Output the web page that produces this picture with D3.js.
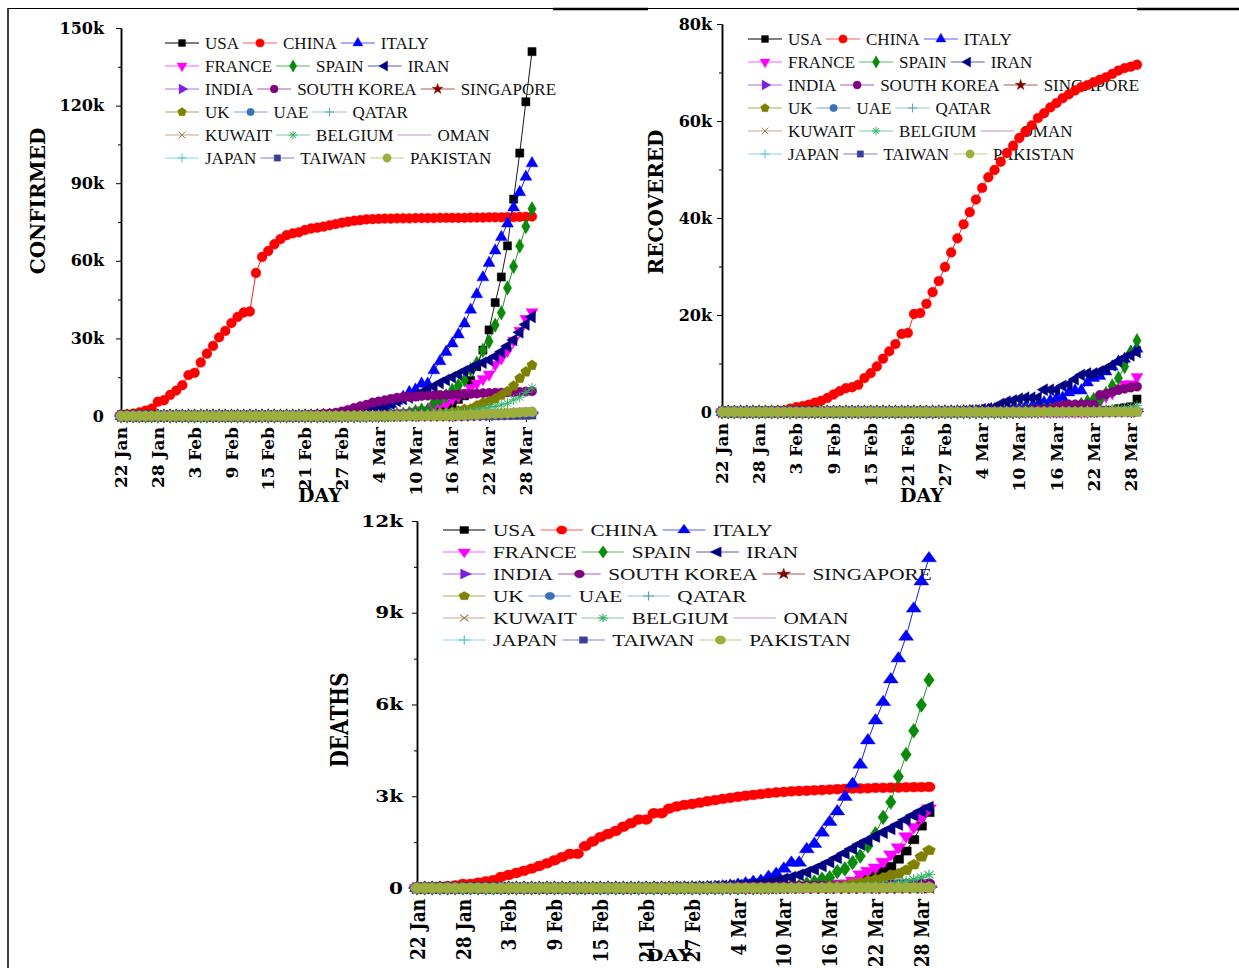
<!DOCTYPE html>
<html>
<head>
<meta charset="utf-8">
<script src="https://cdn.jsdelivr.net/npm/d3@7"></script>
<style>
  body { margin: 0; background: #fff; }
  svg { display: block; }
</style>
</head>
<body>
<div id="chart"></div>
<script>
// series, legend order (drawn in this order, last on top)
const countries = ["USA", "CHINA", "ITALY", "FRANCE", "SPAIN", "IRAN",
  "INDIA", "SOUTH KOREA", "SINGAPORE", "UK", "UAE", "QATAR",
  "KUWAIT", "BELGIUM", "OMAN", "JAPAN", "TAIWAN", "PAKISTAN"];

// 22 Jan .. 29 Mar 2020 (68 days)
const days = d3.utcDay.range(new Date(Date.UTC(2020, 0, 22)), new Date(Date.UTC(2020, 2, 30)));

// ---------- CONFIRMED ----------
const usaConfirmed = [1,1,2,2,5,5,5,6,6,8, 8,8,11,11,12,12,12,12,12,12,
  13,13,15,15,15,15,15,15,15,15, 35,35,35,53,53,59,60,62,70,76,
  101,122,153,221,278,417,537,605,959,1281, 1663,2179,2727,3499,4632,6421,7783,13677,19100,25489,
  33276,43847,53740,65778,83836,101657,121478,140886];
const chinaConfirmed = [548,643,920,1406,2075,2877,5509,6087,8141,9802,
  11891,15800,16700,20700,24100,27100,30400,32900,35900,38300,
  40000,40400,55300,61500,63800,66400,68400,69900,70600,71000,
  71900,72500,72800,73200,73700,74200,74700,75100,75500,75700,
  76000,76100,76200,76300,76300,76400,76400,76400,76500,76500,
  76500,76500,76600,76600,76600,76600,76600,76700,76700,76700,
  76800,76800,76800,76900,76900,77000,77000,77100];
const italyConfirmed = [0,0,0,0,0,0,0,0,0,2, 2,2,2,2,2,2,3,3,3,3,
  3,3,3,3,3,3,3,3,3,3, 20,62,155,229,322,453,655,888,1128,1694,
  2036,2502,3089,3858,4636,5883,7375,9172,10149,12462,
  12462,17660,21157,24747,27980,31506,35713,41035,47021,53578,
  59138,63927,69176,74386,80589,86498,92472,97689];
const franceConfirmed = [0,0,2,3,3,3,4,5,5,5, 6,6,6,6,6,6,6,11,11,11,
  11,11,11,11,12,12,12,12,12,12, 12,12,12,12,12,18,38,57,100,130,
  191,204,288,380,656,957,1134,1217,1792,2289, 2289,3672,4480,4513,6650,7652,9043,10871,12612,14282,
  16018,19856,22304,25233,29155,32964,37575,40174];
const spainConfirmed = [0,0,0,0,0,0,0,0,0,0, 1,1,1,1,1,1,1,1,1,2,
  2,2,2,2,2,2,2,2,2,2, 2,2,2,2,6,13,15,32,45,84,
  120,165,222,259,400,500,673,1073,1695,2277, 2277,5232,6391,7798,9942,11748,13910,17963,20410,25374,
  28768,35136,39885,49515,57786,65719,73235,80110];
const iranConfirmed = [0,0,0,0,0,0,0,0,0,0, 0,0,0,0,0,0,0,0,0,0,
  0,0,0,0,0,0,0,0,2,5, 18,28,43,61,95,139,245,388,593,978,
  1501,2336,2922,3513,4747,5823,6566,7161,8042,9000, 10075,11364,12729,13938,14991,16169,17361,18407,19644,20610,
  21638,23049,24811,27017,29406,32332,35408,38309];
const indiaConfirmed = [0,0,0,0,0,0,0,0,1,1, 1,2,3,3,3,3,3,3,3,3,
  3,3,3,3,3,3,3,3,3,3, 3,3,3,3,3,3,3,3,3,3,
  5,5,28,30,31,34,39,43,56,62, 73,82,102,113,119,142,156,194,244,330,
  396,499,536,657,727,887,987,1024];
const koreaConfirmed = [1,1,2,2,3,4,4,4,4,11, 12,15,15,16,19,23,24,24,25,27,
  28,28,28,28,28,29,30,31,31,104, 204,433,602,833,977,1261,1766,2337,3150,3736,
  4335,5186,5621,6088,6593,7041,7314,7478,7513,7755, 7869,7979,8086,8162,8236,8320,8413,8565,8652,8799,
  8897,8961,9037,9137,9241,9332,9478,9583];
const singaporeConfirmed = [0,1,3,3,4,5,7,7,10,13, 16,18,18,24,28,28,30,33,40,45,
  47,50,58,67,72,75,77,81,84,84, 85,85,89,89,91,93,93,93,102,106,
  108,110,110,117,130,138,150,150,160,178, 178,200,212,226,243,266,313,345,385,432,
  455,509,558,631,683,732,802,844];
const ukConfirmed = [0,0,0,0,0,0,0,0,0,2, 2,2,2,2,2,2,3,3,3,8,
  8,9,9,9,9,9,9,9,9,9, 9,9,9,13,13,13,15,20,23,36,
  40,51,85,115,163,206,273,321,382,456, 456,798,1140,1140,1543,1950,2626,2689,3983,5018,
  5683,6650,8077,9529,11658,14543,17089,19606];
const uaeConfirmed = [0,0,0,0,0,0,0,4,4,4, 4,5,5,5,5,5,5,7,7,8,
  8,8,8,8,8,9,9,9,9,9, 9,13,13,13,13,13,13,19,21,21,
  21,27,27,29,29,45,45,45,74,74, 85,85,85,98,98,98,113,140,140,153,
  153,198,248,333,333,405,468,570];
const qatarConfirmed = [0,0,0,0,0,0,0,0,0,0, 0,0,0,0,0,0,0,0,0,0,
  0,0,0,0,0,0,0,0,0,0, 0,0,0,0,0,0,0,0,1,1,
  1,7,8,8,8,15,15,18,24,262, 262,320,337,401,401,439,452,460,470,481,
  494,501,526,537,549,562,590,634];
const kuwaitConfirmed = [0,0,0,0,0,0,0,0,0,0, 0,0,0,0,0,0,0,0,0,0,
  0,0,0,0,0,0,0,0,0,0, 0,0,0,1,11,26,43,45,45,45,
  56,56,56,58,58,61,64,64,69,72, 80,80,104,112,123,130,142,148,159,176,
  188,189,191,195,208,225,235,255];
const belgiumConfirmed = [0,0,0,0,0,0,0,0,0,0, 0,0,0,1,1,1,1,1,1,1,
  1,1,1,1,1,1,1,1,1,1, 1,1,1,1,1,1,1,1,1,2,
  8,13,23,50,109,169,200,239,267,314, 314,559,689,886,1058,1243,1486,1795,2257,2815,
  3401,3743,4269,4937,6235,7284,9134,10836];
const omanConfirmed = [0,0,0,0,0,0,0,0,0,0, 0,0,0,0,0,0,0,0,0,0,
  0,0,0,0,0,0,0,0,0,0, 0,0,0,2,4,4,4,4,6,6,
  6,12,15,16,16,16,16,16,18,18, 18,19,19,22,22,24,39,48,48,52,
  55,66,84,99,109,131,152,167];
const japanConfirmed = [2,1,2,2,4,4,7,7,11,15, 20,20,20,22,22,45,25,25,26,26,
  26,28,28,29,43,59,66,74,84,94, 105,122,147,159,170,189,214,228,241,256,
  274,293,331,360,420,461,502,511,581,639, 639,701,773,839,825,878,889,924,963,1007,
  1086,1086,1128,1193,1307,1387,1468,1693];
const taiwanConfirmed = [1,1,3,3,4,5,8,8,9,10, 10,10,10,11,11,16,16,17,18,18,
  18,18,18,18,18,20,22,22,23,24, 26,26,28,30,31,32,32,34,39,40,
  41,42,42,44,45,45,45,45,47,48, 49,50,53,59,67,77,100,108,135,153,
  169,195,215,235,252,267,283,298];
const pakistanConfirmed = [0,0,0,0,0,0,0,0,0,0, 0,0,0,0,0,0,0,0,0,0,
  0,0,0,0,0,0,0,0,0,0, 0,0,0,0,0,2,2,2,2,4,
  4,5,5,5,6,6,6,6,16,19, 20,28,31,53,136,236,299,454,501,730,
  776,875,972,1063,1201,1373,1495,1597];

// ---------- RECOVERED ----------
const usaRecovered = [0,0,0,0,0,0,0,0,0,0, 0,0,0,0,0,0,0,0,3,3,
  3,3,3,3,3,3,3,3,3,5, 5,5,5,5,5,6,6,7,7,7,
  7,7,7,7,7,7,7,7,8,8, 12,12,12,17,17,17,106,108,147,171,
  178,295,348,361,681,869,1072,2665];
const chinaRecovered = [28,30,36,39,49,58,101,120,135,214,
  300,700,1000,1200,1500,1900,2300,2900,3600,4300,
  4900,5100,5600,7000,8000,9400,11000,12500,14000,16100,
  16300,20200,20400,22300,24700,27000,29900,32900,35800,38700,
  41200,43800,46200,48400,49900,51600,53400,54900,56500,57800,
  59100,60600,61600,62800,63700,64700,65500,66300,67000,67400,
  68000,68500,69000,69700,70400,70900,71200,71600];
const italyRecovered = [0,0,0,0,0,0,0,0,0,0, 0,0,0,0,0,0,0,0,0,0,
  0,0,0,0,0,0,0,0,0,0, 0,1,2,1,1,3,45,46,46,83,
  149,160,276,414,523,589,622,724,724,1045, 1045,1439,1966,2335,2749,2941,4025,4440,4440,6072,
  7024,7432,8326,9362,10361,10950,12384,13030];
const franceRecovered = [0,0,0,0,0,0,0,0,0,0, 0,0,0,0,0,0,0,0,0,0,
  0,0,0,0,4,4,4,4,4,4, 4,4,4,4,4,4,4,4,12,12,
  12,12,12,12,12,12,12,12,12,12, 12,12,12,12,12,12,12,12,12,12,
  2200,2200,3250,3907,4955,5707,5724,7226];
const spainRecovered = [0,0,0,0,0,0,0,0,0,0, 0,0,0,0,0,0,0,0,0,0,
  0,0,0,0,2,2,2,2,2,2, 2,2,2,2,2,2,2,2,2,2,
  2,2,2,2,2,30,30,32,32,183, 183,193,517,517,530,1028,1081,1107,1588,2125,
  2575,2575,3794,5367,7015,9357,12285,14709];
const iranRecovered = [0,0,0,0,0,0,0,0,0,0, 0,0,0,0,0,0,0,0,0,0,
  0,0,0,0,0,0,0,0,0,0, 0,0,0,0,0,49,49,73,123,175,
  291,291,552,739,913,1669,2134,2394,2731,2959, 2959,2959,4590,4590,4590,5389,5710,6745,7635,7931,
  7931,8376,8913,9625,10457,11133,11679,12391];
const indiaRecovered = [0,0,0,0,0,0,0,0,0,0, 0,0,0,0,0,0,0,0,0,0,
  0,0,0,0,0,0,0,0,0,0, 3,3,3,3,3,3,3,3,3,3,
  3,3,3,3,3,3,3,3,4,4, 4,4,10,13,13,14,14,15,20,23,
  27,27,40,43,45,73,84,95];
const koreaRecovered = [0,0,0,0,0,0,0,0,0,0, 0,0,0,0,0,1,1,1,3,3,
  3,7,7,7,9,9,10,12,12,16, 16,16,18,18,22,22,22,22,27,30,
  30,30,41,41,135,135,118,118,247,288, 333,510,510,510,1137,1407,1540,1540,1540,1540,
  1540,3507,3730,4144,4528,4811,5033,5228];
const singaporeRecovered = [0,0,0,0,0,0,0,0,0,0, 0,0,0,0,2,2,2,2,2,2,
  9,15,15,17,18,18,24,29,34,34, 37,37,51,51,53,62,62,62,72,72,
  78,78,78,78,78,78,78,78,78,96, 96,97,105,105,109,114,114,114,124,140,
  144,144,156,160,172,183,198,212];
const ukRecovered = [0,0,0,0,0,0,0,0,0,0, 0,0,0,0,0,0,0,0,0,0,
  0,0,1,1,8,8,8,8,8,8, 8,8,8,8,8,8,8,8,8,8,
  8,8,8,8,8,18,18,18,18,18, 19,19,19,19,20,52,67,67,67,67,
  67,135,135,135,135,135,135,135];
const uaeRecovered = [0,0,0,0,0,0,0,0,0,0, 0,0,0,0,0,0,0,0,0,0,
  1,1,1,1,1,3,3,3,3,3, 3,4,4,4,4,4,5,5,5,5,
  5,5,5,5,7,7,7,12,17,17, 17,20,20,23,23,23,26,31,31,38,
  38,41,52,52,52,52,58,58];
const qatarRecovered = [0,0,0,0,0,0,0,0,0,0, 0,0,0,0,0,0,0,0,0,0,
  0,0,0,0,0,0,0,0,0,0, 0,0,0,0,0,0,0,0,0,0,
  0,0,0,0,0,0,0,0,0,0, 0,0,0,0,0,0,0,0,4,4,
  6,6,6,33,33,43,48,51];
const kuwaitRecovered = [0,0,0,0,0,0,0,0,0,0, 0,0,0,0,0,0,0,0,0,0,
  0,0,0,0,0,0,0,0,0,0, 0,0,0,0,0,0,0,0,0,0,
  0,0,0,0,0,0,0,0,1,2, 5,5,5,9,9,9,15,15,18,22,
  27,27,30,43,43,49,57,64];
const belgiumRecovered = [0,0,0,0,0,0,0,0,0,0, 0,0,0,0,0,0,0,0,0,0,
  0,0,0,0,0,0,1,1,1,1, 1,1,1,1,1,1,1,1,1,1,
  1,1,1,1,1,1,1,1,1,1, 1,1,1,1,31,31,31,31,31,263,
  263,340,410,547,675,858,1063,1359];
const omanRecovered = [0,0,0,0,0,0,0,0,0,0, 0,0,0,0,0,0,0,0,0,0,
  0,0,0,0,0,0,0,0,0,0, 0,0,0,0,0,0,0,0,0,0,
  0,2,2,2,2,2,2,9,9,9, 9,9,9,9,9,12,12,12,12,13,
  13,13,17,17,17,17,23,23];
const japanRecovered = [0,0,0,0,1,1,1,1,1,1, 1,1,1,1,1,1,1,1,1,4,
  4,4,9,9,12,12,12,13,18,18, 22,22,22,22,22,22,22,22,32,32,
  32,43,43,43,46,76,76,76,101,118, 118,118,118,118,144,144,144,150,191,232,
  235,235,285,310,359,372,372,378];
const taiwanRecovered = [0,0,0,0,0,0,0,0,0,0, 0,0,0,0,0,1,1,1,1,1,
  1,1,1,1,1,1,2,2,2,2, 2,2,2,5,5,5,5,5,9,9,
  9,12,12,12,12,12,12,12,15,17, 17,17,17,20,20,20,20,20,22,28,
  28,28,28,29,29,30,30,39];
const pakistanRecovered = [0,0,0,0,0,0,0,0,0,0, 0,0,0,0,0,0,0,0,0,0,
  0,0,0,0,0,0,0,0,0,0, 0,0,0,0,0,0,0,0,0,0,
  0,0,0,0,0,0,0,0,0,0, 0,0,0,2,2,2,2,2,3,3,
  5,5,8,18,23,23,25,29];

// ---------- DEATHS ----------
const usaDeaths = [0,0,0,0,0,0,0,0,0,0, 0,0,0,0,0,0,0,0,0,0,
  0,0,0,0,0,0,0,0,0,0, 0,0,0,0,0,0,0,0,1,1,
  6,7,11,12,14,17,21,22,28,36, 40,47,54,63,85,108,118,200,244,307,
  427,552,706,942,1209,1581,2026,2467];
const chinaDeaths = [17,18,26,42,56,82,131,133,171,213,
  259,361,425,491,562,633,718,805,905,1012,
  1112,1117,1369,1521,1663,1766,1864,2003,2116,2238,
  2238,2443,2445,2595,2665,2717,2746,2790,2837,2872,
  2914,2947,2983,3015,3044,3072,3100,3123,3139,3161,
  3172,3180,3193,3203,3217,3230,3241,3249,3253,3259,
  3274,3274,3281,3285,3291,3296,3299,3304];
const italyDeaths = [0,0,0,0,0,0,0,0,0,0, 0,0,0,0,0,0,0,0,0,0,
  0,0,0,0,0,0,0,0,0,0, 1,2,3,7,10,12,17,21,29,34,
  52,79,107,148,197,233,366,463,631,827, 827,1266,1441,1809,2158,2503,2978,3405,4032,4825,
  5476,6077,6820,7503,8215,9134,10023,10779];
const franceDeaths = [0,0,0,0,0,0,0,0,0,0, 0,0,0,0,0,0,0,0,0,0,
  0,0,0,0,1,1,1,1,1,1, 1,1,1,1,1,2,2,2,2,2,
  3,4,4,6,9,11,19,19,33,48, 48,79,91,91,148,148,148,243,450,562,
  674,860,1100,1331,1696,1995,2314,2606];
const spainDeaths = [0,0,0,0,0,0,0,0,0,0, 0,0,0,0,0,0,0,0,0,0,
  0,0,0,0,0,0,0,0,0,0, 0,0,0,0,0,0,0,0,0,0,
  0,1,2,3,5,10,17,28,35,54, 55,133,195,289,342,533,623,830,1043,1375,
  1772,2311,2808,3647,4365,5138,5982,6803];
const iranDeaths = [0,0,0,0,0,0,0,0,0,0, 0,0,0,0,0,0,0,0,0,0,
  0,0,0,0,0,0,0,0,2,2, 4,5,8,12,16,19,26,34,43,54,
  66,77,92,107,124,145,194,237,291,354, 429,514,611,724,853,988,1135,1284,1433,1556,
  1685,1812,1934,2077,2234,2378,2517,2640];
const indiaDeaths = [0,0,0,0,0,0,0,0,0,0, 0,0,0,0,0,0,0,0,0,0,
  0,0,0,0,0,0,0,0,0,0, 0,0,0,0,0,0,0,0,0,0,
  0,0,0,0,0,0,0,0,0,0, 1,2,2,2,2,3,3,4,5,6,
  7,10,10,12,20,20,24,27];
const koreaDeaths = [0,0,0,0,0,0,0,0,0,0, 0,0,0,0,0,0,0,0,0,0,
  0,0,0,0,0,0,0,0,0,1, 2,2,6,8,10,12,13,13,16,17,
  28,28,35,35,42,44,50,53,54,60, 66,66,72,75,75,81,84,91,94,102,
  104,111,120,126,131,139,144,152];
const singaporeDeaths = [0,0,0,0,0,0,0,0,0,0, 0,0,0,0,0,0,0,0,0,0,
  0,0,0,0,0,0,0,0,0,0, 0,0,0,0,0,0,0,0,0,0,
  0,0,0,0,0,0,0,0,0,0, 0,0,0,0,0,0,0,0,0,2,
  2,2,2,2,2,2,3,3];
const ukDeaths = [0,0,0,0,0,0,0,0,0,0, 0,0,0,0,0,0,0,0,0,0,
  0,0,0,0,0,0,0,0,0,0, 0,0,0,0,0,0,0,0,0,0,
  0,0,0,1,2,2,3,4,6,8, 8,8,21,21,56,56,72,138,178,234,
  282,336,423,466,580,761,1021,1231];
const uaeDeaths = [0,0,0,0,0,0,0,0,0,0, 0,0,0,0,0,0,0,0,0,0,
  0,0,0,0,0,0,0,0,0,0, 0,0,0,0,0,0,0,0,0,0,
  0,0,0,0,0,0,0,0,0,0, 0,0,0,0,0,0,0,0,2,2,
  2,2,2,2,2,2,3,3];
const qatarDeaths = [0,0,0,0,0,0,0,0,0,0, 0,0,0,0,0,0,0,0,0,0,
  0,0,0,0,0,0,0,0,0,0, 0,0,0,0,0,0,0,0,0,0,
  0,0,0,0,0,0,0,0,0,0, 0,0,0,0,0,0,0,0,0,0,
  0,0,0,0,0,0,1,1];
const kuwaitDeaths = [0,0,0,0,0,0,0,0,0,0, 0,0,0,0,0,0,0,0,0,0,
  0,0,0,0,0,0,0,0,0,0, 0,0,0,0,0,0,0,0,0,0,
  0,0,0,0,0,0,0,0,0,0, 0,0,0,0,0,0,0,0,0,0,
  0,0,0,0,0,0,0,0];
const belgiumDeaths = [0,0,0,0,0,0,0,0,0,0, 0,0,0,0,0,0,0,0,0,0,
  0,0,0,0,0,0,0,0,0,0, 0,0,0,0,0,0,0,0,0,0,
  0,0,0,0,0,0,0,0,0,3, 3,3,4,4,5,10,14,21,37,67,
  75,88,122,178,220,289,353,431];
const omanDeaths = [0,0,0,0,0,0,0,0,0,0, 0,0,0,0,0,0,0,0,0,0,
  0,0,0,0,0,0,0,0,0,0, 0,0,0,0,0,0,0,0,0,0,
  0,0,0,0,0,0,0,0,0,0, 0,0,0,0,0,0,0,0,0,0,
  0,0,0,0,0,0,0,0];
const japanDeaths = [0,0,0,0,0,0,0,0,0,0, 0,0,0,0,0,0,0,0,0,0,
  0,0,1,1,1,1,1,1,1,1, 1,1,1,1,1,2,4,4,5,6,
  6,6,6,6,6,6,6,10,10,15, 16,19,22,22,27,29,29,29,33,35,
  41,42,43,45,47,49,52,54];
const taiwanDeaths = [0,0,0,0,0,0,0,0,0,0, 0,0,0,0,0,0,0,0,0,0,
  0,0,0,0,0,1,1,1,1,1, 1,1,1,1,1,1,1,1,1,1,
  1,1,1,1,1,1,1,1,1,1, 1,1,1,1,1,1,1,1,1,1,
  2,2,2,2,2,2,2,5];
const pakistanDeaths = [0,0,0,0,0,0,0,0,0,0, 0,0,0,0,0,0,0,0,0,0,
  0,0,0,0,0,0,0,0,0,0, 0,0,0,0,0,0,0,0,0,0,
  0,0,0,0,0,0,0,0,0,0, 0,0,0,0,0,0,2,3,3,3,
  5,6,7,8,9,11,12,21];

const confirmedSeries = [usaConfirmed, chinaConfirmed, italyConfirmed, franceConfirmed, spainConfirmed, iranConfirmed,
  indiaConfirmed, koreaConfirmed, singaporeConfirmed, ukConfirmed, uaeConfirmed, qatarConfirmed,
  kuwaitConfirmed, belgiumConfirmed, omanConfirmed, japanConfirmed, taiwanConfirmed, pakistanConfirmed];
const recoveredSeries = [usaRecovered, chinaRecovered, italyRecovered, franceRecovered, spainRecovered, iranRecovered,
  indiaRecovered, koreaRecovered, singaporeRecovered, ukRecovered, uaeRecovered, qatarRecovered,
  kuwaitRecovered, belgiumRecovered, omanRecovered, japanRecovered, taiwanRecovered, pakistanRecovered];
const deathsSeries = [usaDeaths, chinaDeaths, italyDeaths, franceDeaths, spainDeaths, iranDeaths,
  indiaDeaths, koreaDeaths, singaporeDeaths, ukDeaths, uaeDeaths, qatarDeaths,
  kuwaitDeaths, belgiumDeaths, omanDeaths, japanDeaths, taiwanDeaths, pakistanDeaths];

const colors = ["#000000", "#ff0000", "#0000ff", "#ff00ff", "#0a8a0a", "#000080",
  "#7a1ee0", "#800080", "#800000", "#808000", "#3a72b8", "#5aa3b8",
  "#a0804e", "#33b266", "#b050b0", "#4cc6cc", "#3c3c9c", "#9caf3c"];

// custom origin-like symbols
const symPentagon = {
  draw(ctx, size) {
    const r = Math.sqrt(size / 2.378);
    for (let k = 0; k < 5; k++) {
      const a = -Math.PI / 2 + k * 2 * Math.PI / 5;
      if (k) ctx.lineTo(r * Math.cos(a), r * Math.sin(a));
      else ctx.moveTo(r * Math.cos(a), r * Math.sin(a));
    }
    ctx.closePath();
  }
};
const symPlus = {
  draw(ctx, size) {
    const r = Math.sqrt(size) / 1.6;
    ctx.moveTo(-r, 0); ctx.lineTo(r, 0);
    ctx.moveTo(0, -r); ctx.lineTo(0, r);
  }
};
const symX = {
  draw(ctx, size) {
    const r = Math.sqrt(size) / 2.1;
    ctx.moveTo(-r, -r); ctx.lineTo(r, r);
    ctx.moveTo(-r, r); ctx.lineTo(r, -r);
  }
};
const symAsterisk = {
  draw(ctx, size) {
    const r = Math.sqrt(size) / 1.7, q = r * 0.72;
    ctx.moveTo(-r, 0); ctx.lineTo(r, 0);
    ctx.moveTo(0, -r); ctx.lineTo(0, r);
    ctx.moveTo(-q, -q); ctx.lineTo(q, q);
    ctx.moveTo(-q, q); ctx.lineTo(q, -q);
  }
};

const markers = [
  {type: d3.symbolSquare, size: 68},
  {type: d3.symbolCircle, size: 76},
  {type: d3.symbolTriangle, size: 62},
  {type: d3.symbolTriangle, size: 62, rot: 180},
  {type: d3.symbolDiamond, size: 62},
  {type: d3.symbolTriangle, size: 62, rot: -90},
  {type: d3.symbolTriangle, size: 62, rot: 90},
  {type: d3.symbolCircle, size: 70},
  {type: d3.symbolStar, size: 52},
  {type: symPentagon, size: 70},
  {type: d3.symbolCircle, size: 64},
  {type: symPlus, size: 72, open: true},
  {type: symX, size: 72, open: true},
  {type: symAsterisk, size: 72, open: true},
  null,
  {type: symPlus, size: 72, open: true},
  {type: d3.symbolSquare, size: 58},
  {type: d3.symbolCircle, size: 80}
];

const legendRows = d3.range(6).map(r => countries.slice(r * 3, r * 3 + 3));
const tickDates = days.filter((d, i) => i % 6 === 0);
const fmtDay = d3.utcFormat("%-d %b");
const boldFont = "'DejaVu Serif', serif";
const legendFont = "'Liberation Serif', 'Times New Roman', serif";

const svg = d3.select("#chart").append("svg")
  .attr("width", 1239).attr("height", 968)
  .style("background", "#fff");

// page frame
svg.append("line").attr("x1", 8).attr("y1", 8).attr("x2", 8).attr("y2", 968)
  .attr("stroke", "#000").attr("stroke-width", 1.5);
svg.append("line").attr("x1", 8).attr("y1", 8.5).attr("x2", 1239).attr("y2", 8.5)
  .attr("stroke", "#000").attr("stroke-width", 1.2);
[[553, 648], [1137, 1239]].forEach(s => {
  svg.append("line").attr("x1", s[0]).attr("x2", s[1]).attr("y1", 9).attr("y2", 9)
    .attr("stroke", "#000").attr("stroke-width", 2.6);
});

function drawMarker(parent, i, px, py, sx, k) {
  const m = markers[i];
  const p = parent.append("path")
    .attr("d", d3.symbol(m.type, m.size * k)())
    .attr("transform", `translate(${px},${py}) scale(${sx},1) rotate(${m.rot || 0})`);
  if (m.open) p.attr("fill", "none").attr("stroke", colors[i]).attr("stroke-width", 1);
  else p.attr("fill", colors[i]).attr("stroke", colors[i]).attr("stroke-width", 0.4);
}

function drawPanel(data, cfg) {
  const g = svg.append("g");
  const x = d3.scaleUtc().domain([days[0], days[days.length - 1]]).range([cfg.x0, cfg.x1]);
  const y = d3.scaleLinear().domain([0, cfg.ymax]).range([cfg.y0, cfg.y1]);

  // legend (sits under the data)
  const lg = g.append("g").attr("transform", `translate(${cfg.legendX},${cfg.legendY}) scale(${cfg.sx},1)`);
  legendRows.forEach((row, r) => {
    let cx = 0;
    const cy = r * cfg.rowGap;
    row.forEach(name => {
      const i = countries.indexOf(name);
      lg.append("line").attr("x1", cx).attr("x2", cx + 34).attr("y1", cy).attr("y2", cy)
        .attr("stroke", colors[i]).attr("stroke-width", 1).attr("stroke-opacity", i ? 0.65 : 1);
      if (markers[i]) drawMarker(lg, i, cx + 17, cy, 1, 0.7);
      const t = lg.append("text").attr("x", cx + 40).attr("y", cy).attr("dy", "0.35em")
        .attr("font-family", legendFont).attr("font-size", 17).attr("fill", "#111").text(name);
      cx += 40 + t.node().getComputedTextLength() + 4;
    });
  });

  // axes
  const yTicks = d3.range(0, cfg.ymax + 1, cfg.major);
  const yMinor = d3.range(cfg.minor, cfg.ymax, cfg.major);
  const axisStyle = sel => sel.call(s => s.selectAll("path,line").attr("stroke", "#000"))
    .call(s => s.select(".domain").attr("stroke-width", 1.5));

  g.append("g").attr("transform", `translate(${cfg.x0},0)`)
    .call(d3.axisLeft(y).tickValues(yMinor).tickSize(3).tickSizeOuter(0).tickFormat(""))
    .call(axisStyle);
  g.append("g").attr("transform", `translate(${cfg.x0},0)`)
    .call(d3.axisLeft(y).tickValues(yTicks).tickSize(5).tickSizeOuter(0).tickFormat(""))
    .call(axisStyle);
  g.append("g").attr("transform", `translate(0,${cfg.y0})`)
    .call(d3.axisBottom(x).tickValues(days).tickSize(3).tickSizeOuter(0).tickFormat(""))
    .call(axisStyle);
  g.append("g").attr("transform", `translate(0,${cfg.y0})`)
    .call(d3.axisBottom(x).tickValues(tickDates).tickSize(6).tickSizeOuter(0).tickFormat(""))
    .call(axisStyle);

  g.selectAll(".ylab").data(yTicks).join("text")
    .attr("transform", d => `translate(${cfg.x0 - cfg.labelGap},${y(d)}) scale(${cfg.sx},1)`)
    .attr("dy", "0.35em").attr("text-anchor", "end")
    .attr("font-family", boldFont).attr("font-weight", "bold").attr("font-size", 16)
    .text(d => d === 0 ? "0" : (d / 1000) + "k");

  g.selectAll(".xlab").data(tickDates).join("text")
    .attr("transform", d => `translate(${x(d)},${cfg.y0 + 11}) scale(${cfg.sx},1) rotate(-90)`)
    .attr("dy", "0.36em").attr("text-anchor", "end")
    .attr("font-family", boldFont).attr("font-weight", "bold").attr("font-size", 17)
    .text(fmtDay);

  g.append("text")
    .attr("transform", `translate(${cfg.titleX},${cfg.titleY}) scale(${cfg.sx},1) rotate(-90)`)
    .attr("dy", "0.36em").attr("text-anchor", "middle")
    .attr("font-family", boldFont).attr("font-weight", "bold").attr("font-size", 20)
    .text(cfg.title);
  g.append("text")
    .attr("transform", `translate(${cfg.dayX},${cfg.dayY}) scale(${cfg.sx},1)`)
    .attr("text-anchor", "middle")
    .attr("font-family", boldFont).attr("font-weight", "bold").attr("font-size", cfg.dayFont)
    .text("DAY");

  // series
  const line = d3.line().x((d, j) => x(days[j])).y(d => y(d));
  data.forEach((vals, i) => {
    const sg = g.append("g");
    sg.append("path").datum(vals).attr("d", line)
      .attr("fill", "none").attr("stroke", colors[i]).attr("stroke-width", 0.9);
    if (markers[i]) vals.forEach((v, j) => drawMarker(sg, i, x(days[j]), y(v), cfg.sx, 1));
  });
}

drawPanel(confirmedSeries, {x0: 121, x1: 532, y0: 416, y1: 28, ymax: 150000, major: 30000, minor: 15000,
  labelGap: 17, sx: 1, legendX: 165, legendY: 43, rowGap: 23,
  title: "CONFIRMED", titleX: 38, titleY: 201, dayX: 320, dayY: 502, dayFont: 19});
drawPanel(recoveredSeries, {x0: 722, x1: 1137, y0: 412, y1: 24, ymax: 80000, major: 20000, minor: 10000,
  labelGap: 10, sx: 1, legendX: 748, legendY: 39, rowGap: 23,
  title: "RECOVERED", titleX: 656, titleY: 202, dayX: 922, dayY: 502, dayFont: 19});
drawPanel(deathsSeries, {x0: 417, x1: 929, y0: 888, y1: 521, ymax: 12000, major: 3000, minor: 1500,
  labelGap: 14, sx: 1.25, legendX: 443, legendY: 530, rowGap: 22,
  title: "DEATHS", titleX: 339, titleY: 720, dayX: 669, dayY: 961, dayFont: 16});
</script>
</body>
</html>
